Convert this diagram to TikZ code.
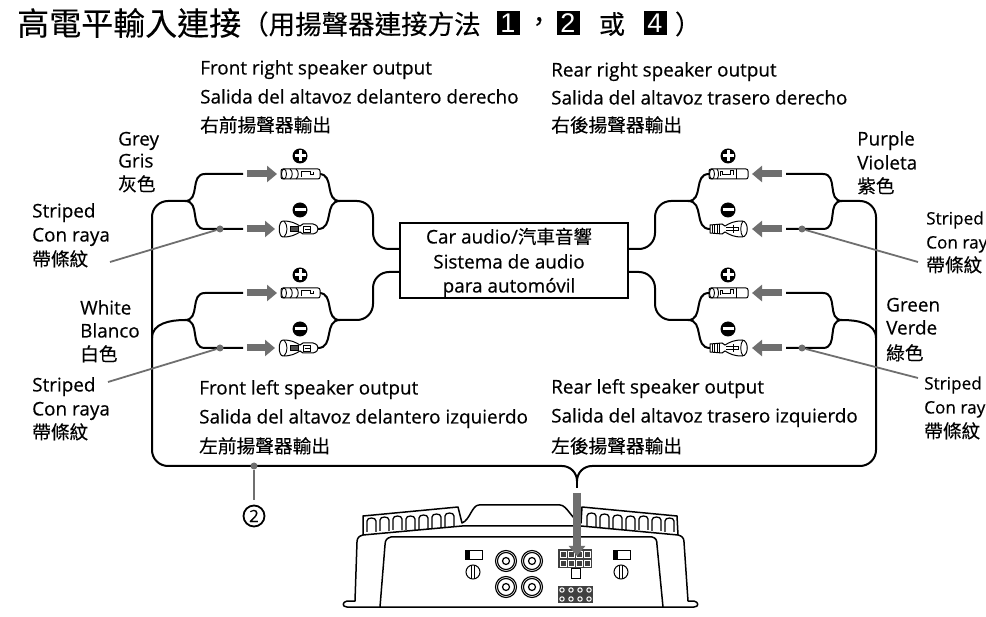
\documentclass[tikz,border=0pt]{standalone}
\usepackage{fontspec}
\usetikzlibrary{arrows.meta}
\setmainfont{Open Sans}[FakeBold=0.4]
\setsansfont{Liberation Sans}
\newfontfamily\cjk{Noto Sans CJK TC}[FakeBold=0.2]
\begin{document}
\begin{tikzpicture}[x=1pt,y=-1pt,
	every node/.style={inner sep=0pt},
	lbl/.style={anchor=west,font=\fontsize{18.9}{20}\selectfont,text height=15pt,text depth=2pt},
	lbledge/.style={lbl,font=\fontsize{17.2}{20}\selectfont},
	zh/.style={anchor=west,font=\cjk\fontsize{18.7}{20}\selectfont,text height=16pt,text depth=2pt},
	boxed/.style={draw=black,line width=2.2pt,minimum width=228pt,minimum height=75pt},
	digit/.style={fill=black,text=white,font=\sffamily\fontsize{27}{27}\selectfont,minimum width=23pt,minimum height=24pt},
	wire/.style={draw=black,line width=2pt},
	leadline/.style={draw=gry,line width=1.8pt},
	dot/.style={circle,fill=gry,minimum size=7pt},
	blockarrow/.style={draw=gry,line width=7pt,-{Triangle[length=10pt,width=16pt]},shorten >=4pt,shorten <=4pt},
	thin term/.style={draw=black,line width=1pt,fill=white},
	amp/.style={draw=black,line width=1.5pt},
	pics/posterm/.style={code={
		\draw[thin term,rounded corners=2pt] (0,-5) rectangle (39,5);
		\draw[line width=.9pt] (3,0) ellipse (2.5 and 5);
		\draw[line width=.9pt] (9,-5) .. controls (12,-3) and (12,3) .. (9,5);
		\draw[line width=.9pt] (15,-5) .. controls (18,-3) and (18,3) .. (15,5);
		\draw[line width=1pt] (20,3) -- (20,-2) -- (29,-2) -- (29,1) -- (32,1) -- (32,-2);
	}},
	pics/negterm/.style={code={
		\draw[thin term] (4,-8) .. controls (12,-8) and (16,-6) .. (21,-3) -- (24,-5) -- (34,-5) .. controls (38,-4) and (39,-2) .. (39,0)
			.. controls (39,2) and (38,4) .. (34,5) -- (24,5) -- (21,3) .. controls (16,6) and (12,8) .. (4,8) .. controls (-1,8) and (-1,-8) .. (4,-8);
		\draw[line width=.9pt] (5,-8) .. controls (9,-4) and (9,4) .. (5,8);
		\draw[fill=black!70,line width=.6pt] (11,-2.5) rectangle (19,2.5);
		\draw[line width=.9pt] (24,-3) rectangle (31,3);
		\draw[line width=.8pt] (26,0) -- (31,0);
	}},
	pics/postermb/.style={code={
		\draw[thin term,rounded corners=2pt] (-39,-5) rectangle (0,5);
		\draw[line width=.9pt] (-36,0) ellipse (2.5 and 5);
		\draw[line width=.9pt] (-31,-5) .. controls (-29,-3) and (-29,3) .. (-31,5);
		\draw[line width=1pt] (-28,2) -- (-28,-2) -- (-26,-2) -- (-26,1) -- (-18,1) -- (-18,-3) -- (-15,-3) -- (-15,1);
		\draw[line width=.9pt] (-12,-5) -- (-12,5);
	}},
	pics/negtermb/.style={code={
		\draw[thin term] (-38,-4) -- (-26,-5) -- (-23,-3) .. controls (-18,-6) and (-14,-8) .. (-6,-8) .. controls (1,-8) and (1,8) .. (-6,8) .. controls (-14,8) and (-18,6) .. (-23,3) -- (-26,5) -- (-38,4) -- cycle;
		\draw[line width=.9pt] (-36,-4) -- (-36,4) (-33.5,-4.5) -- (-33.5,4.5) (-31,-4.5) -- (-31,4.5) (-28.5,-5) -- (-28.5,5);
		\draw[line width=.9pt] (-22,-1.5) -- (-10,-1.5) -- (-10,1.5) -- (-22,1.5);
		\draw[line width=.9pt] (-15,-4) -- (-15,4);
		\draw[line width=.9pt] (-5,-8) .. controls (-8,-4) and (-8,4) .. (-5,8);
	}},
	pics/plusmark/.style={code={
		\fill[black] (0,0) circle (7.5);
		\draw[white,line width=3pt] (-5.5,0) -- (5.5,0) (0,-5.5) -- (0,5.5);
	}},
	pics/minusmark/.style={code={
		\fill[black] (0,0) circle (7.5);
		\draw[white,line width=3pt] (-5.5,0) -- (5.5,0);
	}},
	pics/fin/.style={code={
		\draw[line width=1.3pt] (0,0) -- (0,-11) .. controls (0,-15) and (9,-15) .. (9,-11) -- (9,0);
	}},
	pics/rca/.style={code={
		\draw[line width=1.1pt] (0,0) circle (10.5);
		\draw[line width=1.1pt] (0,0) circle (8.5);
		\draw[line width=1.2pt] (0,0) circle (3.5);
	}},
	pics/switchknob/.style={code={
		\draw[line width=1pt] (0,0) rectangle (17,9);
		\fill[black] (0,0) rectangle (5,9);
		\draw[line width=1pt] (8,22) circle (7);
		\draw[line width=1pt] (6.5,15.5) -- (6.5,28.5) (9.5,15.5) -- (9.5,28.5);
	}},
]
	\path[use as bounding box,clip] (0,0) rectangle (986,617);
	\definecolor{gry}{HTML}{6F6F6F}

	% heading
	\node[anchor=west,font=\cjk\fontsize{32}{34}\selectfont] (title) at (17,23){高電平輸入連接};
	\node[anchor=west,font=\cjk\fontsize{26.5}{28}\selectfont] (subtitle) at (242,24){（用揚聲器連接方法};
	\node[digit] (one) at (508,23){1};
	\node[anchor=center,font=\cjk\fontsize{26}{28}\selectfont] (comma) at (539,24){，};
	\node[digit] (two) at (568,23){2};
	\node[anchor=center,font=\cjk\fontsize{26}{28}\selectfont] (orword) at (612,24){或};
	\node[digit] (four) at (655,23){4};
	\node[anchor=center,font=\cjk\fontsize{26}{28}\selectfont] (closing) at (688,24){）};

	% labels
	\node[lbl] (frA) at (200,68){Front right speaker output};
	\node[lbl] (frB) at (200,97){Salida del altavoz delantero derecho};
	\node[zh] (frC) at (200,125){右前揚聲器輸出};
	\node[lbl] (rrA) at (551,70){Rear right speaker output};
	\node[lbl] (rrB) at (551,98){Salida del altavoz trasero derecho};
	\node[zh] (rrC) at (551,125){右後揚聲器輸出};
	\node[lbl] (flA) at (199,388){Front left speaker output};
	\node[lbl] (flB) at (199,417){Salida del altavoz delantero izquierdo};
	\node[zh] (flC) at (199,446){左前揚聲器輸出};
	\node[lbl] (rlA) at (551,387){Rear left speaker output};
	\node[lbl] (rlB) at (551,416){Salida del altavoz trasero izquierdo};
	\node[zh] (rlC) at (551,446){左後揚聲器輸出};

	\node[lbl] (greyA) at (118,139){Grey};
	\node[lbl] (greyB) at (118,161){Gris};
	\node[zh] (greyC) at (118,184){灰色};
	\node[lbl] (purpleA) at (857,139){Purple};
	\node[lbl] (purpleB) at (857,163){Violeta};
	\node[zh] (purpleC) at (857,186){紫色};
	\node[lbl] (whiteA) at (80,308){White};
	\node[lbl] (whiteB) at (80,331){Blanco};
	\node[zh] (whiteC) at (80,354){白色};
	\node[lbl] (greenA) at (886,305){Green};
	\node[lbl] (greenB) at (886,328){Verde};
	\node[zh] (greenC) at (886,353){綠色};

	\node[lbl] (stripeAa) at (32,211){Striped};
	\node[lbl] (stripeAb) at (32,235){Con raya};
	\node[zh] (stripeAc) at (32,259){帶條紋};
	\node[lbl] (stripeBa) at (32,385){Striped};
	\node[lbl] (stripeBb) at (32,409){Con raya};
	\node[zh] (stripeBc) at (32,432){帶條紋};
	\node[lbledge] (stripeCa) at (926,218){Striped};
	\node[lbledge] (stripeCb) at (926,242){Con ray};
	\node[zh] (stripeCc) at (926,265){帶條紋};
	\node[lbledge] (stripeDa) at (924,383){Striped};
	\node[lbledge] (stripeDb) at (924,407){Con ray};
	\node[zh] (stripeDc) at (924,431){帶條紋};

	% head unit
	\node[boxed] (audio) at (514,260.5){};
	\node[lbl,anchor=center] (audioA) at (509,237){Car audio/{\cjk\fontsize{18.5}{20}\selectfont 汽車音響}};
	\node[lbl,anchor=center] (audioB) at (509,262){Sistema de audio};
	\node[lbl,anchor=center] (audioC) at (509,286){para automóvil};

	% points on the wires
	\coordinate (wFRp) at (243,174);
	\coordinate (wFRn) at (243,229);
	\coordinate (wFLp) at (243,293);
	\coordinate (wFLn) at (243,348);
	\coordinate (bFRp) at (205,174);
	\coordinate (bFRn) at (205,229);
	\coordinate (bFLp) at (205,293);
	\coordinate (bFLn) at (205,348);
	\coordinate (jFRa) at (185,201);
	\coordinate (jFLa) at (185,320);
	\coordinate (jFRb) at (340,201);
	\coordinate (jFLb) at (340,320);
	\coordinate (tFRp) at (281,174);
	\coordinate (tFRn) at (279,229);
	\coordinate (tFLp) at (281,293);
	\coordinate (tFLn) at (279,348);
	\coordinate (eFRp) at (319,174);
	\coordinate (eFRn) at (318,229);
	\coordinate (eFLp) at (319,293);
	\coordinate (eFLn) at (318,348);

	\coordinate (wRRp) at (786,174);
	\coordinate (wRRn) at (786,229);
	\coordinate (wRLp) at (786,293);
	\coordinate (wRLn) at (786,348);
	\coordinate (bRRp) at (823,174);
	\coordinate (bRRn) at (823,229);
	\coordinate (bRLp) at (823,293);
	\coordinate (bRLn) at (823,348);
	\coordinate (jRRa) at (842,201);
	\coordinate (jRLa) at (842,320);
	\coordinate (jRRb) at (688,201);
	\coordinate (jRLb) at (688,320);
	\coordinate (tRRp) at (748,174);
	\coordinate (tRRn) at (748,229);
	\coordinate (tRLp) at (748,293);
	\coordinate (tRLn) at (748,348);
	\coordinate (eRRp) at (709,174);
	\coordinate (eRRn) at (710,229);
	\coordinate (eRLp) at (709,293);
	\coordinate (eRLn) at (710,348);

	\coordinate (portA) at (400,249);
	\coordinate (portB) at (400,272);
	\coordinate (portC) at (628,249);
	\coordinate (portD) at (628,272);
	\coordinate (bendA) at (373,249);
	\coordinate (bendB) at (373,272);
	\coordinate (bendC) at (655,249);
	\coordinate (bendD) at (655,272);

	\coordinate (botL) at (152,466);
	\coordinate (botR) at (876,466);
	\coordinate (busL) at (562,466);
	\coordinate (busR) at (592,466);
	\coordinate (stemT) at (577,481);
	\coordinate (stemB) at (577,488);
	\coordinate (trunkL) at (152,338);
	\coordinate (trunkR) at (876,338);
	\coordinate (plugIn) at (577,556);

	% amplifier
	\draw[amp,fill=white,line join=round] (380,607) -- (347,607) .. controls (342,607) and (342,602) .. (347,601) -- (355,601) -- (357,542) .. controls (357,538) and (359,536) .. (363,535) -- (363,516) -- (458,507) -- (462,523) .. controls (470,520) and (472,505) .. (479,505) -- (560,505) .. controls (567,505) and (572,520) .. (581,523) -- (582,507) -- (677,516) -- (678,535) .. controls (682,536) and (684,538) .. (684,542) -- (688,601) -- (694,601) .. controls (699,602) and (699,607) .. (694,607) -- cycle;
	\draw[amp] (363,535) -- (462,526) -- (581,526) -- (678,535);
	\draw[amp] (380,607) -- (385,545) .. controls (385,540) and (387,538) .. (391,537) -- (652,537) .. controls (656,538) and (657,540) .. (657,545) -- (663,607);

	\pic at (367,532) {fin};
	\pic at (380,531) {fin};
	\pic at (393,530) {fin};
	\pic at (406,530) {fin};
	\pic at (419,529) {fin};
	\pic at (432,528) {fin};
	\pic at (445,527) {fin};
	\pic at (587,527) {fin};
	\pic at (600,528) {fin};
	\pic at (613,529) {fin};
	\pic at (626,530) {fin};
	\pic at (639,530) {fin};
	\pic at (652,531) {fin};
	\pic at (665,532) {fin};

	\pic at (465,550) {switchknob};
	\pic at (613,550) {switchknob};
	\pic at (506,561) {rca};
	\pic at (532,561) {rca};
	\pic at (506,587) {rca};
	\pic at (532,587) {rca};
	\fill[black!75] (558,549) rectangle (592,568);
	\draw[white,line width=1pt] (560,551) rectangle +(6,6) (568,551) rectangle +(6,6) (576,551) rectangle +(6,6) (584,551) rectangle +(6,6);
	\draw[white,line width=1pt] (560,560) rectangle +(6,6) (568,560) rectangle +(6,6) (576,560) rectangle +(6,6) (584,560) rectangle +(6,6);
	\draw[line width=1pt] (571,568) rectangle (580,578);
	\fill[black!75] (558,586) rectangle (593,603);
	\draw[white,line width=1pt] (562,590) circle (2.2) (571,590) circle (2.2) (580,590) circle (2.2) (589,590) circle (2.2);
	\draw[white,line width=1pt] (562,599) circle (2.2) (571,599) circle (2.2) (580,599) circle (2.2) (589,599) circle (2.2);

	% wires
	\draw[wire] (jFRa) to[out=0,in=180,looseness=1.2] (bFRp) -- (wFRp);
	\draw[wire] (jFRa) to[out=0,in=180,looseness=1.2] (bFRn) -- (wFRn);
	\draw[wire] (jFLa) to[out=0,in=180,looseness=1.2] (bFLp) -- (wFLp);
	\draw[wire] (jFLa) to[out=0,in=180,looseness=1.2] (bFLn) -- (wFLn);
	\draw[wire] (jFRb) to[out=180,in=0,looseness=1.2] (eFRp);
	\draw[wire] (jFRb) to[out=180,in=0,looseness=1.2] (eFRn);
	\draw[wire] (jFLb) to[out=180,in=0,looseness=1.2] (eFLp);
	\draw[wire] (jFLb) to[out=180,in=0,looseness=1.2] (eFLn);
	\draw[wire] (jRRa) to[out=180,in=0,looseness=1.2] (bRRp) -- (wRRp);
	\draw[wire] (jRRa) to[out=180,in=0,looseness=1.2] (bRRn) -- (wRRn);
	\draw[wire] (jRLa) to[out=180,in=0,looseness=1.2] (bRLp) -- (wRLp);
	\draw[wire] (jRLa) to[out=180,in=0,looseness=1.2] (bRLn) -- (wRLn);
	\draw[wire] (jRRb) to[out=0,in=180,looseness=1.2] (eRRp);
	\draw[wire] (jRRb) to[out=0,in=180,looseness=1.2] (eRRn);
	\draw[wire] (jRLb) to[out=0,in=180,looseness=1.2] (eRLp);
	\draw[wire] (jRLb) to[out=0,in=180,looseness=1.2] (eRLn);

	\draw[wire,rounded corners=16pt] (jFRb) -| (bendA) -- (portA);
	\draw[wire,rounded corners=16pt] (jFLb) -| (bendB) -- (portB);
	\draw[wire,rounded corners=16pt] (jRRb) -| (bendC) -- (portC);
	\draw[wire,rounded corners=16pt] (jRLb) -| (bendD) -- (portD);

	\draw[wire,rounded corners=16pt] (jFRa) -| (botL) -- (busL);
	\draw[wire,rounded corners=16pt] (jRRa) -| (botR) -- (busR);
	\draw[wire] (busL) to[out=0,in=90] (stemT);
	\draw[wire] (busR) to[out=180,in=90] (stemT);
	\draw[wire] (stemT) -- (stemB);
	\draw[wire] (jFLa) to[out=180,in=90] (trunkL);
	\draw[wire] (jRLa) to[out=0,in=90] (trunkR);

	% terminals
	\pic at (tFRp) {posterm};
	\pic at (tFRn) {negterm};
	\pic at (tFLp) {posterm};
	\pic at (tFLn) {negterm};
	\pic at (tRRp) {postermb};
	\pic at (tRRn) {negtermb};
	\pic at (tRLp) {postermb};
	\pic at (tRLn) {negtermb};

	\pic at (300,156) {plusmark};
	\pic at (300,210) {minusmark};
	\pic at (300,275) {plusmark};
	\pic at (300,329) {minusmark};
	\pic at (728,156) {plusmark};
	\pic at (728,210) {minusmark};
	\pic at (728,275) {plusmark};
	\pic at (728,329) {minusmark};

	% grey arrows
	\draw[blockarrow] (wFRp) -- (tFRp);
	\draw[blockarrow] (wFRn) -- (tFRn);
	\draw[blockarrow] (wFLp) -- (tFLp);
	\draw[blockarrow] (wFLn) -- (tFLn);
	\draw[blockarrow] (wRRp) -- (tRRp);
	\draw[blockarrow] (wRRn) -- (tRRn);
	\draw[blockarrow] (wRLp) -- (tRLp);
	\draw[blockarrow] (wRLn) -- (tRLn);
	\draw[blockarrow,line width=8pt,shorten <=5pt,shorten >=0pt] (stemB) -- (plugIn);

	% striped leads
	\node[dot] (dotA) at (220,229){};
	\node[dot] (dotB) at (220,348){};
	\node[dot] (dotC) at (802,229){};
	\node[dot] (dotD) at (802,348){};
	\node[dot] (dotE) at (254,466){};
	\coordinate (endA) at (110,262);
	\coordinate (endB) at (108,382);
	\coordinate (endC) at (918,262);
	\coordinate (endD) at (918,378);
	\draw[leadline] (dotA) -- (endA);
	\draw[leadline] (dotB) -- (endB);
	\draw[leadline] (dotC) -- (endC);
	\draw[leadline] (dotD) -- (endD);

	\node[circle,draw=black,line width=1.8pt,minimum size=21pt,font=\fontsize{17}{18}\selectfont] (callout) at (254,516){2};
	\draw[leadline,shorten >=5pt] (dotE) -- (callout);

\end{tikzpicture}
\end{document}
